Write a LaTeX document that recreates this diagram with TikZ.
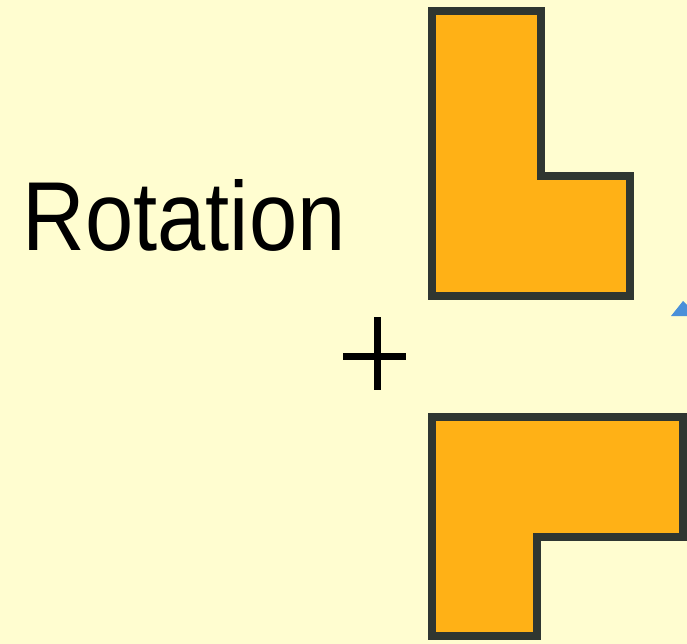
\documentclass[tikz,border=0pt]{standalone}
\usepackage{fontspec}
\setmainfont{Liberation Sans}
\definecolor{bg}{HTML}{FFFDD0}
\definecolor{lfill}{HTML}{FFB116}
\definecolor{lline}{HTML}{2F3631}
\definecolor{tri}{HTML}{4A90D9}
\tikzset{
  lshape/.style={fill=lfill, draw=lline, line width=8pt, line join=miter},
  plusbar/.style={draw=black, line width=7pt},
}
\begin{document}
\begin{tikzpicture}[x=1pt,y=-1pt]
\fill[bg] (0,0) rectangle (687,644);
\useasboundingbox (0,0) rectangle (687,644);
% label
\node[anchor=base, inner sep=0pt, font=\fontsize{98}{98}\selectfont, xscale=0.885] (rot) at (184,250) {Rotation};
% top L
\path[lshape] (432,11) -- (541,11) -- (541,176) -- (630,176) -- (630,296) -- (432,296) -- cycle;
% bottom L
\path[lshape] (432,417) -- (683,417) -- (683,537) -- (537,537) -- (537,636) -- (432,636) -- cycle;
% plus
\coordinate (pl) at (343,356);
\coordinate (pr) at (406,356);
\coordinate (pt) at (377,317);
\coordinate (pb) at (377,390);
\draw[plusbar] (pl) -- (pr);
\draw[plusbar] (pt) -- (pb);
% blue triangle corner
\fill[tri] (671,316) -- (683,301) -- (687,305) -- (687,316) -- cycle;
\end{tikzpicture}
\end{document}
